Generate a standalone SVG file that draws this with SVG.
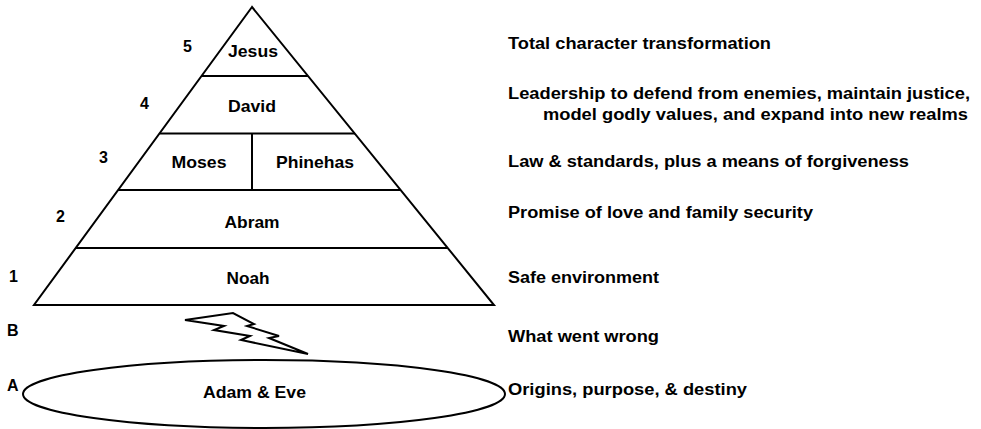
<svg xmlns="http://www.w3.org/2000/svg" width="981" height="429" viewBox="0 0 981 429">
<style>
.shape{fill:#fff;stroke:#000;stroke-width:2;stroke-linejoin:miter}
.line{stroke:#000;stroke-width:2;fill:none}
.lbl{font-family:"Liberation Sans",Arial,sans-serif;font-weight:bold;font-size:17px;fill:#000;text-anchor:middle}
.num{font-family:"Liberation Sans",Arial,sans-serif;font-weight:bold;font-size:16px;fill:#000}
.desc{font-family:"Liberation Sans",Arial,sans-serif;font-weight:bold;font-size:16px;fill:#000}
</style>
<rect width="981" height="429" fill="#fff"/>
<g id="pyramid">
<polygon class="shape" points="252,7 34,305 494,305"/>
</g>
<g id="connectors">
<line class="line" x1="201.5" y1="76" x2="308" y2="76"/>
<line class="line" x1="159.5" y1="133.5" x2="355" y2="133.5"/>
<line class="line" x1="118" y1="190" x2="401" y2="190"/>
<line class="line" x1="75.7" y1="248" x2="448" y2="248"/>
<line class="line" x1="252" y1="133.5" x2="252" y2="190"/>
</g>
<g id="node-jesus"><text class="lbl" x="253" y="57" textLength="50" lengthAdjust="spacingAndGlyphs">Jesus</text></g>
<g id="node-david"><text class="lbl" x="252" y="112" textLength="48" lengthAdjust="spacingAndGlyphs">David</text></g>
<g id="node-moses"><text class="lbl" x="199" y="168" textLength="55" lengthAdjust="spacingAndGlyphs">Moses</text></g>
<g id="node-phinehas"><text class="lbl" x="315" y="168" textLength="78" lengthAdjust="spacingAndGlyphs">Phinehas</text></g>
<g id="node-abram"><text class="lbl" x="252" y="228" textLength="55" lengthAdjust="spacingAndGlyphs">Abram</text></g>
<g id="node-noah"><text class="lbl" x="248" y="284" textLength="43" lengthAdjust="spacingAndGlyphs">Noah</text></g>
<g id="node-bolt">
<polygon class="shape" stroke-width="1.5" points="185,320 233,313 254,324 247,326 279,336 269,338 308,354 241,340 250,336 214,330 224,326"/>
</g>
<g id="node-adam-eve">
<ellipse class="shape" cx="264" cy="394" rx="241" ry="34"/>
<text class="lbl" x="254.5" y="398" textLength="103" lengthAdjust="spacingAndGlyphs">Adam &amp; Eve</text>
</g>
<g id="levels">
<text class="num" x="183" y="52">5</text>
<text class="num" x="140" y="109">4</text>
<text class="num" x="99" y="163">3</text>
<text class="num" x="56" y="222">2</text>
<text class="num" x="9" y="282">1</text>
<text class="num" x="7" y="336">B</text>
<text class="num" x="7" y="391">A</text>
</g>
<g id="descriptions">
<text class="desc" x="508" y="49" textLength="263" lengthAdjust="spacingAndGlyphs">Total character transformation</text>
<text class="desc" x="508" y="99" textLength="462" lengthAdjust="spacingAndGlyphs">Leadership to defend from enemies, maintain justice,</text>
<text class="desc" x="543" y="120" textLength="425" lengthAdjust="spacingAndGlyphs">model godly values, and expand into new realms</text>
<text class="desc" x="508" y="167" textLength="401" lengthAdjust="spacingAndGlyphs">Law &amp; standards, plus a means of forgiveness</text>
<text class="desc" x="508" y="218" textLength="305" lengthAdjust="spacingAndGlyphs">Promise of love and family security</text>
<text class="desc" x="508" y="283" textLength="151" lengthAdjust="spacingAndGlyphs">Safe environment</text>
<text class="desc" x="508" y="342" textLength="151" lengthAdjust="spacingAndGlyphs">What went wrong</text>
<text class="desc" x="508" y="395" textLength="239" lengthAdjust="spacingAndGlyphs">Origins, purpose, &amp; destiny</text>
</g>
</svg>
